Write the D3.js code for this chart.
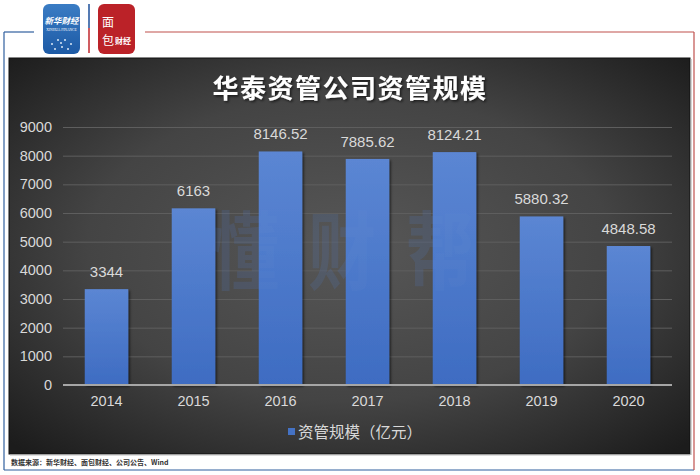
<!DOCTYPE html>
<html><head><meta charset="utf-8">
<script src="https://cdn.jsdelivr.net/npm/d3@7"></script>
<style>body{margin:0;background:#fff;}svg{display:block;}</style>
</head><body>
<svg id="c" width="700" height="475"></svg>
<script>
const categories = ["2014","2015","2016","2017","2018","2019","2020"];
const values = [3344, 6163, 8146.52, 7885.62, 8124.21, 5880.32, 4848.58];
const valueLabels = ["3344","6163","8146.52","7885.62","8124.21","5880.32","4848.58"];
const yTicks = [0,1000,2000,3000,4000,5000,6000,7000,8000,9000];
const title = "华泰资管公司资管规模";
const seriesName = "资管规模（亿元）";
const source = "数据来源：新华财经、面包财经、公司公告、Wind";

const svg = d3.select("#c");
const defs = svg.append("defs");
const font = "'Noto Sans CJK SC','Noto Sans',sans-serif";

const rg = defs.append("radialGradient").attr("id","bg").attr("cx","50%").attr("cy","48%").attr("r","70%");
rg.append("stop").attr("offset","0%").attr("stop-color","#575757");
rg.append("stop").attr("offset","55%").attr("stop-color","#444");
rg.append("stop").attr("offset","100%").attr("stop-color","#1c1c1c");

const bg = defs.append("linearGradient").attr("id","bar").attr("x1",0).attr("y1",0).attr("x2",0).attr("y2",1);
bg.append("stop").attr("offset","0%").attr("stop-color","#5b86d3");
bg.append("stop").attr("offset","100%").attr("stop-color","#3e6cc2");

const sh = defs.append("filter").attr("id","sh").attr("x","-20%").attr("y","-20%").attr("width","150%").attr("height","150%");
sh.append("feDropShadow").attr("dx",1.5).attr("dy",1.5).attr("stdDeviation",1.2).attr("flood-color","#000").attr("flood-opacity",0.6);

const bl = defs.append("linearGradient").attr("id","blogo").attr("x1",0).attr("y1",0).attr("x2",0).attr("y2",1);
bl.append("stop").attr("offset","0%").attr("stop-color","#3a7cc4");
bl.append("stop").attr("offset","100%").attr("stop-color","#1d5aa5");

// outer frame
svg.append("line").attr("x1",4).attr("y1",32).attr("x2",34).attr("y2",32).attr("stroke","#2f5f9e").attr("stroke-width",1.2);
svg.append("line").attr("x1",145).attr("y1",32).attr("x2",694).attr("y2",32).attr("stroke","#c0504d").attr("stroke-width",1.2);
svg.append("line").attr("x1",4).attr("y1",32).attr("x2",4).attr("y2",470).attr("stroke","#2f5f9e").attr("stroke-width",1.2);
svg.append("line").attr("x1",4).attr("y1",470).attr("x2",694).attr("y2",470).attr("stroke","#2f5f9e").attr("stroke-width",1.2);
svg.append("line").attr("x1",694).attr("y1",32).attr("x2",694).attr("y2",470).attr("stroke","#c0504d").attr("stroke-width",1.2);

// logos
svg.append("rect").attr("x",43).attr("y",4).attr("width",37).attr("height",50).attr("rx",6).attr("fill","url(#blogo)");
svg.append("text").attr("x",61.5).attr("y",24).attr("text-anchor","middle").attr("font-family",font).attr("font-weight","bold").attr("font-style","italic").attr("font-size",8.5).attr("fill","#fff").text("新华财经");
svg.append("text").attr("x",61.5).attr("y",30.5).attr("text-anchor","middle").attr("font-family","'Liberation Serif',serif").attr("font-size",3.6).attr("fill","#fff").text("XINHUA FINANCE");
[[52,44],[58,40],[65,40],[71,44],[55,49],[62,47],[68,49],[61,43]].forEach(p=>{
  svg.append("circle").attr("cx",p[0]).attr("cy",p[1]).attr("r",1).attr("fill","#dbe8f6");
});
svg.append("line").attr("x1",89).attr("y1",4).attr("x2",89).attr("y2",28).attr("stroke","#1d4f9a").attr("stroke-width",1.5);
svg.append("line").attr("x1",89).attr("y1",28).attr("x2",89).attr("y2",53).attr("stroke","#c0272d").attr("stroke-width",1.5);
svg.append("rect").attr("x",98).attr("y",4).attr("width",37).attr("height",50).attr("rx",6).attr("fill","#bb2228");
svg.append("text").attr("x",102).attr("y",27).attr("font-family",font).attr("font-size",12).attr("fill","#fff").text("面");
svg.append("text").attr("x",102).attr("y",45).attr("font-family",font).attr("font-size",12).attr("fill","#fff").text("包");
svg.append("text").attr("x",115).attr("y",44).attr("font-family",font).attr("font-weight","bold").attr("font-size",8).attr("fill","#fff").text("财经");

// panel
svg.append("rect").attr("x",9).attr("y",58).attr("width",681).attr("height",396).attr("fill","url(#bg)").attr("stroke","#111").attr("stroke-width",1);
svg.append("line").attr("x1",10).attr("y1",455).attr("x2",690).attr("y2",455).attr("stroke","#bbb").attr("stroke-width",1);
svg.append("line").attr("x1",691).attr("y1",59).attr("x2",691).attr("y2",455).attr("stroke","#aaa").attr("stroke-width",1);

// title
svg.append("text").attr("x",350).attr("y",98).attr("text-anchor","middle")
  .attr("font-family",font).attr("font-weight","bold").attr("font-size",26).attr("letter-spacing",1.5)
  .attr("fill","#fff").attr("filter","url(#sh)").text(title);

const x = d3.scaleBand().domain(categories).range([63,672]).paddingInner(0.5).paddingOuter(0.25);
const y = d3.scaleLinear().domain([0,9000]).range([385,127]);

// grid
const yAxis = d3.axisLeft(y).tickValues(yTicks).tickSize(-(672-63)).tickFormat(d3.format("d")).tickPadding(11);
const ga = svg.append("g").attr("transform","translate(63,0)").call(yAxis);
ga.select(".domain").remove();
ga.selectAll(".tick line").attr("stroke","#5e5e5e").attr("stroke-width",1);
ga.selectAll(".tick text").attr("font-family","'Liberation Sans',Arial,sans-serif").attr("font-size",14.5).attr("fill","#d9d9d9");

// watermark (stretched vertically)
const wm = ["懂","财","帮"];
const wmx = [245, 342, 440];
function drawWm(fill, op){
  wm.forEach((c,i)=>{
    svg.append("text").attr("transform",`translate(${wmx[i]},283) scale(1,1.25)`).attr("text-anchor","middle").attr("font-family",font)
     .attr("font-weight","bold").attr("font-size",68).attr("fill",fill).attr("opacity",op).text(c);
  });
}
drawWm("#3b64b0",0.13);

// bars
svg.append("g").selectAll("rect").data(values).join("rect")
  .attr("x",(d,i)=>x(categories[i])).attr("y",d=>y(d))
  .attr("width",x.bandwidth()).attr("height",d=>y(0)-y(d))
  .attr("fill","url(#bar)").attr("filter","url(#sh)");

drawWm("#7a9ad6",0.07);

// x axis
const xAxis = d3.axisBottom(x).tickSize(0).tickPadding(11);
const gx = svg.append("g").attr("transform","translate(0,385)").call(xAxis);
gx.select(".domain").attr("stroke","#a6a6a6").attr("stroke-width",2).attr("d","M63,0H672");
gx.selectAll(".tick text").attr("font-family","'Liberation Sans',Arial,sans-serif").attr("font-size",14.5).attr("fill","#d9d9d9");

// value labels
svg.append("g").selectAll("text").data(values).join("text")
  .attr("x",(d,i)=>x(categories[i])+x.bandwidth()/2).attr("y",d=>y(d)-12)
  .attr("text-anchor","middle").attr("font-family","'Liberation Sans',Arial,sans-serif").attr("font-size",15)
  .attr("fill","#d9d9d9").text((d,i)=>valueLabels[i]);

// legend
svg.append("rect").attr("x",288).attr("y",428).attr("width",7).attr("height",7).attr("fill","#4472c4");
svg.append("text").attr("x",298).attr("y",438).attr("font-family",font).attr("font-size",15.5).attr("fill","#d9d9d9").text(seriesName);

// source
svg.append("text").attr("x",11).attr("y",464.5).attr("font-family","'Noto Sans CJK SC',serif").attr("font-weight","bold").attr("font-size",7).attr("fill","#333").text(source);
</script>
</body></html>
